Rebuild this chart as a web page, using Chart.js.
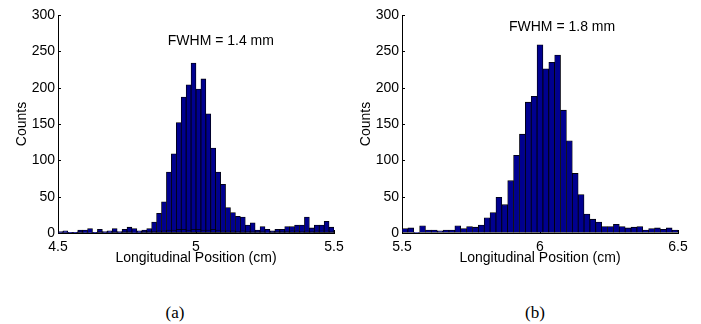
<!DOCTYPE html>
<html>
<head>
<meta charset="utf-8">
<script src="https://cdn.jsdelivr.net/npm/chart.js@4.4.1/dist/chart.umd.min.js"></script>
<style>
  html, body { margin: 0; padding: 0; background: #fff; }
  body { width: 701px; height: 324px; position: relative; overflow: hidden; }
  .panel { position: absolute; top: 0; width: 350px; height: 270px; }
  .cap { position: absolute; top: 303px; width: 40px; margin-left: -20px; text-align: center;
         font: 17px "Liberation Serif", "Times New Roman", serif; color: #000; }
</style>
</head>
<body>
<div class="panel" style="left:0"><canvas id="histA" width="350" height="270"></canvas></div>
<div class="panel" style="left:344px"><canvas id="histB" width="350" height="270"></canvas></div>
<div class="cap" style="left:175px">(a)</div>
<div class="cap" style="left:535px">(b)</div>
<script>
// (a) 56 bins between 4.5 and 5.5 cm
const rangeA = [4.5, 5.5];
const countsA = [2, 3, 1, 1, 4, 4, 6, 1, 5, 2, 3, 6, 2, 5, 8, 6, 3, 4, 6, 15,
                 27, 43, 84, 109, 152, 187, 204, 234, 198, 212, 164, 117, 84, 67, 35, 28,
                 23, 22, 11, 14, 4, 9, 5, 3, 5, 5, 9, 9, 11, 11, 22, 7, 11, 11, 16, 8];
// low second histogram sitting on the base of (a)
const lowA = [1, 1, 1, 1, 2, 1, 1, 1, 2, 1, 1, 2, 1, 2, 2, 1, 1, 2, 2, 2,
              3, 3, 4, 4, 5, 5, 4, 5, 5, 4, 4, 5, 4, 3, 3, 3,
              2, 3, 2, 2, 2, 2, 1, 2, 2, 2, 2, 3, 3, 2, 3, 2, 3, 3, 3, 2];
const noteA = 'FWHM = 1.4 mm';

// (b) 47 bins between 5.5 and 6.5 cm
const rangeB = [5.5, 6.5];
const countsB = [6, 7, 1, 10, 4, 4, 3, 4, 4, 10, 6, 9, 8, 11, 21, 28, 49, 39, 72, 107, 136, 180, 188, 259,
                 226, 235, 245, 169, 127, 82, 53, 26, 19, 15, 9, 9, 12, 9, 7, 8, 9, 4, 6, 7, 5, 7, 4];
const noteB = 'FWHM = 1.8 mm';

const yMax = 300, yStep = 50, xStep = 0.5;
const xTitle = 'Longitudinal Position (cm)';
const yTitle = 'Counts';

const barFill = '#00008f';
const font = { family: '"Liberation Sans", Arial, Helvetica, sans-serif', size: 14 };

Chart.defaults.color = '#000';
Chart.defaults.font.family = font.family;

// matlab style ticks pointing into the plot
const innerTicks = {
    id: 'innerTicks',
    beforeDatasetsDraw(chart) {
        const {ctx, chartArea} = chart;
        const ys = chart.scales.y, xs = chart.scales.xt;
        ctx.save();
        ctx.strokeStyle = '#000';
        ctx.lineWidth = 1;
        ys.ticks.forEach(t => {
            const py = Math.round(ys.getPixelForValue(t.value)) + 0.5;
            ctx.beginPath(); ctx.moveTo(chartArea.left, py); ctx.lineTo(chartArea.left + 3, py); ctx.stroke();
        });
        xs.ticks.forEach(t => {
            const px = Math.round(xs.getPixelForValue(t.value)) + 0.5;
            ctx.beginPath(); ctx.moveTo(px, chartArea.bottom); ctx.lineTo(px, chartArea.bottom - 3); ctx.stroke();
        });
        ctx.restore();
    }
};

const note = {
    id: 'note',
    afterDatasetsDraw(chart, args, opts) {
        const {ctx} = chart;
        ctx.save();
        ctx.font = font.size + 'px ' + font.family;
        ctx.fillStyle = '#000';
        ctx.textAlign = 'center';
        ctx.textBaseline = 'middle';
        ctx.fillText(opts.text, chart.scales.xt.getPixelForValue(opts.x), chart.scales.y.getPixelForValue(opts.y));
        ctx.restore();
    }
};

function makeHist(id, range, counts, low, text, at) {
    const datasets = [];
    if (low) {
        datasets.push({ data: low, backgroundColor: barFill, borderColor: '#000',
                        borderWidth: 0.8, borderSkipped: false, order: 0 });
    }
    datasets.push({ data: counts, backgroundColor: barFill, borderColor: '#000',
                    borderWidth: 0.8, borderSkipped: false, order: 1 });
    return new Chart(document.getElementById(id), {
        type: 'bar',
        data: { labels: counts.map((c, i) => i), datasets: datasets },
        options: {
            responsive: false,
            animation: false,
            devicePixelRatio: 1,
            categoryPercentage: 1,
            barPercentage: 1,
            layout: { padding: { top: 15, right: 16, bottom: 0, left: 0 } },
            plugins: {
                legend: { display: false },
                tooltip: { enabled: false },
                note: { text: text, x: at[0], y: at[1] }
            },
            scales: {
                x: { type: 'category', display: false, stacked: true, offset: true },
                xt: {
                    type: 'linear', position: 'bottom', min: range[0], max: range[1],
                    offset: false, bounds: 'ticks',
                    ticks: { stepSize: xStep, font: font, padding: 6, maxRotation: 0,
                             callback: v => String(v) },
                    grid: { drawOnChartArea: false, drawTicks: false, offset: false },
                    border: { color: '#000', width: 1 },
                    title: { display: true, text: xTitle, font: font, padding: { top: 0, bottom: 3 } },
                    afterFit(s) { s.height = 37; }
                },
                y: {
                    min: 0, max: yMax, stacked: false,
                    ticks: { stepSize: yStep, font: font, padding: 3 },
                    grid: { drawOnChartArea: false, drawTicks: false },
                    border: { color: '#000', width: 1 },
                    title: { display: true, text: yTitle, font: font, padding: { top: 14, bottom: 0 } },
                    afterFit(s) { s.width = 58; }
                }
            }
        },
        plugins: [innerTicks, note]
    });
}

makeHist('histA', rangeA, countsA, lowA, noteA, [5.09, 264]);
makeHist('histB', rangeB, countsB, null, noteB, [6.08, 283]);
</script>
</body>
</html>
